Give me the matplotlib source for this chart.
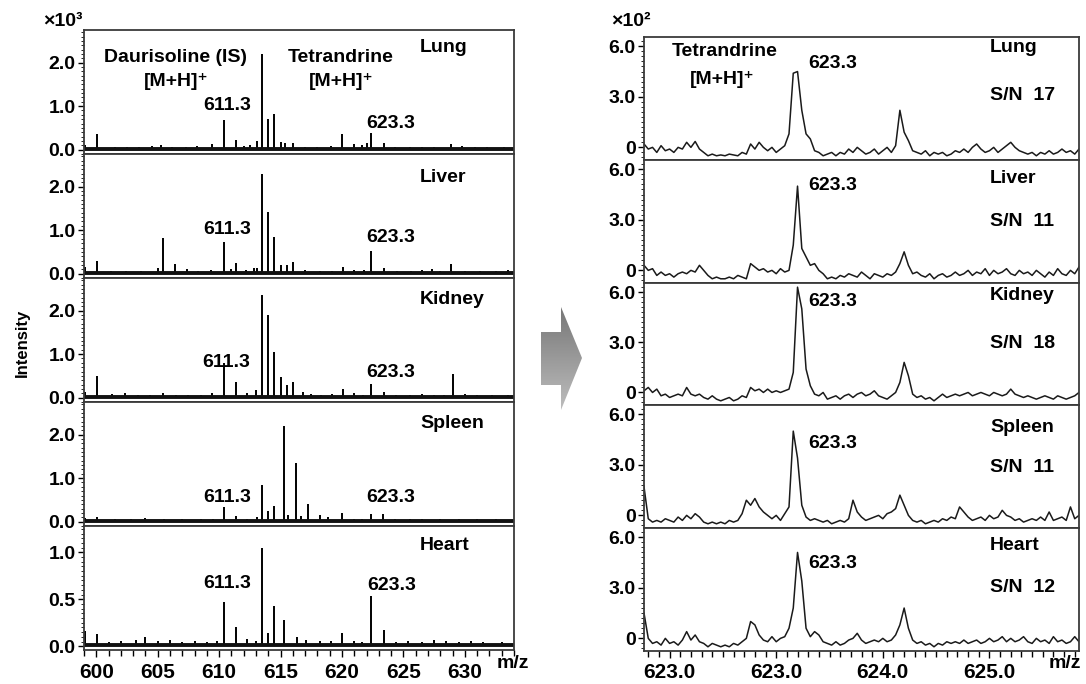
import numpy as np
import matplotlib.pyplot as plt
from matplotlib.ticker import MultipleLocator, AutoMinorLocator
from matplotlib.patches import Polygon
from matplotlib.colors import LinearSegmentedColormap

plt.rcParams['font.family'] = ['Liberation Sans', 'DejaVu Sans']
plt.rcParams['font.weight'] = 'bold'

W, H = 1086, 684

tissues = ['Lung', 'Liver', 'Kidney', 'Spleen', 'Heart']
sn_ratio = [17, 11, 18, 11, 12]

# full scan, stick peaks: m/z and intensity (x10^3)
lung_mz = [599.1, 600.05, 601.5, 602.5, 603.5, 604.5, 605.3, 606.2, 607.3, 608.2,
           609.4, 610.4, 611.4, 612.0, 612.5, 613.1, 613.45, 614.0, 614.45, 615.0,
           615.4, 616.0, 617.0, 618.0, 619.1, 620.0, 621.0, 621.6, 622.0, 622.4,
           623.4, 624.3, 625.5, 626.5, 627.5, 628.9, 629.8, 630.8, 631.8, 633.2]
lung_int = [0.1, 0.37, 0.06, 0.07, 0.06, 0.08, 0.1, 0.06, 0.07, 0.08,
            0.12, 0.69, 0.22, 0.08, 0.1, 0.2, 2.2, 0.7, 0.82, 0.18,
            0.15, 0.15, 0.06, 0.07, 0.08, 0.35, 0.12, 0.1, 0.15, 0.38,
            0.16, 0.06, 0.06, 0.07, 0.06, 0.12, 0.08, 0.07, 0.06, 0.07]

liver_mz = [599.1, 600.05, 601.2, 602.4, 603.6, 605.0, 605.4, 606.4, 607.4, 608.3,
            609.3, 610.4, 611.0, 611.4, 612.2, 612.8, 613.1, 613.45, 614.0, 614.45,
            615.0, 615.5, 616.0, 617.0, 618.2, 619.2, 620.05, 621.0, 621.8, 622.4,
            623.4, 624.5, 625.6, 626.5, 627.3, 628.0, 628.9, 630.0, 631.2, 632.5, 633.5]
liver_int = [0.15, 0.29, 0.06, 0.07, 0.06, 0.12, 0.82, 0.22, 0.1, 0.07,
             0.09, 0.72, 0.1, 0.24, 0.08, 0.12, 0.14, 2.29, 1.41, 0.84,
             0.2, 0.19, 0.27, 0.08, 0.07, 0.06, 0.16, 0.08, 0.09, 0.52,
             0.14, 0.07, 0.06, 0.08, 0.1, 0.06, 0.22, 0.07, 0.06, 0.06, 0.08]

kidney_mz = [599.1, 600.05, 601.3, 602.3, 603.4, 604.4, 605.4, 606.5, 607.5, 608.5,
             609.4, 610.4, 611.4, 612.3, 613.0, 613.45, 614.0, 614.45, 615.0, 615.5,
             616.0, 616.8, 617.5, 618.3, 619.2, 620.05, 621.0, 621.7, 622.4, 623.4,
             624.4, 625.5, 626.5, 627.5, 628.3, 629.0, 630.0, 631.0, 632.2, 633.5]
kidney_int = [0.12, 0.5, 0.08, 0.1, 0.06, 0.07, 0.1, 0.06, 0.07, 0.06,
              0.1, 0.8, 0.35, 0.1, 0.18, 2.35, 1.9, 1.05, 0.48, 0.3,
              0.35, 0.12, 0.08, 0.06, 0.08, 0.2, 0.1, 0.07, 0.32, 0.12,
              0.06, 0.07, 0.08, 0.06, 0.07, 0.55, 0.08, 0.06, 0.07, 0.06]

spleen_mz = [599.1, 600.05, 601.5, 602.8, 604.0, 605.5, 607.0, 608.5, 609.5, 610.4,
             611.4, 612.3, 613.1, 613.45, 614.0, 614.45, 615.3, 615.6, 616.25, 616.7,
             617.2, 618.2, 618.9, 620.0, 621.0, 621.6, 622.35, 623.35, 624.3, 625.5,
             626.5, 628.0, 629.5, 631.0, 632.5]
spleen_int = [0.08, 0.1, 0.06, 0.05, 0.08, 0.05, 0.06, 0.07, 0.07, 0.33,
              0.12, 0.06, 0.1, 0.84, 0.25, 0.36, 2.2, 0.15, 1.35, 0.12,
              0.4, 0.15, 0.1, 0.2, 0.07, 0.06, 0.17, 0.17, 0.06, 0.05,
              0.06, 0.05, 0.06, 0.05, 0.06]

heart_mz = [599.05, 600.05, 601.0, 602.0, 603.2, 604.0, 605.0, 606.0, 607.0, 608.0,
            609.0, 609.8, 610.4, 611.4, 612.3, 613.0, 613.45, 614.0, 614.45, 615.3,
            616.3, 617.1, 618.2, 619.1, 620.0, 621.0, 621.6, 622.35, 623.4, 624.4,
            625.4, 626.5, 627.5, 628.5, 629.5, 630.5, 631.5, 633.0]
heart_int = [0.16, 0.13, 0.05, 0.06, 0.07, 0.1, 0.06, 0.07, 0.05, 0.06,
             0.05, 0.06, 0.47, 0.2, 0.08, 0.06, 1.05, 0.14, 0.43, 0.28,
             0.1, 0.07, 0.06, 0.06, 0.14, 0.06, 0.05, 0.54, 0.17, 0.05,
             0.06, 0.05, 0.07, 0.06, 0.05, 0.06, 0.05, 0.05]

# zoomed profiles around 623.3 (x10^2), one value every 0.04 m/z from 621.76
zoom_start, zoom_step = 621.76, 0.04
lung_zoom = [0.2, -0.1, 0.0, -0.3, 0.1, -0.2, -0.1, -0.3, 0.0, -0.1,
             0.3, 0.0, 0.35, -0.1,
             -0.3, -0.5, -0.4, -0.5, -0.45, -0.5, -0.4, -0.45, -0.5, -0.3, -0.4,
             0.2, -0.1, 0.3, 0.0,
             -0.2, 0.0, -0.3, -0.1, 0.1,
             0.8, 4.4, 4.5, 2.2, 0.8, 0.5, -0.2,
             -0.3, -0.5, -0.4, -0.3, -0.5, -0.3, -0.4, -0.1, -0.3, 0.0,
             -0.2, -0.4, -0.3, -0.1, -0.4, -0.2, 0.0, -0.3,
             0.1, 2.2, 0.9, 0.4, -0.2,
             -0.3, -0.4, -0.2, -0.5, -0.3, -0.4, -0.3, -0.5, -0.4, -0.2,
             -0.3, -0.1, -0.3, 0.0, 0.2, -0.1, -0.3, -0.2, 0.0, -0.3,
             -0.1, 0.1, 0.3, 0.0, -0.2, -0.3, -0.4, -0.3, -0.5, -0.3,
             -0.4, -0.2, -0.4, -0.3, -0.1, -0.3, -0.2, -0.4, -0.1]
liver_zoom = [0.3, 0.0, 0.1, -0.3, -0.1, -0.3, -0.2, -0.4, -0.2, -0.1,
              -0.2, 0.0, -0.1, 0.3,
              0.0, -0.3, -0.5, -0.4, -0.5, -0.5, -0.4, -0.5, -0.3, -0.4, -0.5,
              0.4, 0.2, 0.0, 0.1,
              -0.1, 0.0, -0.2, 0.1, -0.1,
              0.0, 1.5, 5.0, 1.3, 0.8, 0.3, 0.4,
              0.0, -0.2, -0.5, -0.4, -0.5, -0.3, -0.4, -0.2, -0.3, -0.4,
              -0.1, -0.3, -0.5, -0.2, -0.3, -0.4, -0.2, -0.3,
              -0.1, 0.4, 1.1, 0.3, -0.2,
              -0.1, -0.3, -0.4, -0.2, -0.5, -0.3, -0.2, -0.4, -0.3, -0.1,
              -0.3, -0.2, 0.0, -0.3, -0.1, -0.2, 0.1, -0.3, 0.0, -0.2,
              -0.1, 0.1, -0.2, -0.3, 0.0, -0.2, -0.1, -0.3, 0.0, -0.2,
              -0.4, -0.1, -0.3, 0.1, -0.2, -0.3, 0.0, -0.2, 0.2]
kidney_zoom = [0.1, 0.3, 0.0, 0.2, -0.2, -0.1, -0.3, -0.2, -0.1, -0.2,
               0.3, -0.1, -0.2, -0.1,
               -0.3, -0.4, -0.2, -0.4, -0.5, -0.4, -0.3, -0.5, -0.4, -0.2, -0.3,
               0.3, 0.1, 0.2, 0.0,
               0.2, 0.0, 0.1, 0.0, 0.1,
               0.2, 1.2, 6.3, 5.0, 1.4, 0.4, -0.1,
               -0.2, 0.0, -0.4, -0.3, -0.2, -0.4, -0.2, -0.1, -0.3, -0.1,
               0.0, -0.2, -0.1, 0.1, -0.2, -0.3, -0.4, -0.2,
               0.0, 0.6, 1.8, 1.0, -0.1,
               -0.3, -0.2, -0.4, -0.3, -0.5, -0.3, -0.1, -0.3, -0.2, -0.1,
               -0.2, -0.1, 0.0, -0.2, -0.1, 0.0, -0.1, -0.2, 0.0, -0.1,
               -0.2, -0.1, 0.2, -0.1, -0.2, -0.3, -0.2, -0.3, -0.4, -0.3,
               -0.2, -0.3, -0.4, -0.2, -0.3, -0.4, -0.3, -0.2, 0.0]
spleen_zoom = [1.7, -0.2, -0.4, -0.3, -0.4, -0.2, -0.3, -0.4, -0.1, -0.3,
               0.0, -0.2, 0.1, -0.1,
               -0.4, -0.5, -0.4, -0.5, -0.4, -0.5, -0.3, -0.4, -0.3, 0.1, 0.9,
               0.6, 1.0, 0.5, 0.2,
               0.0, -0.2, 0.0, -0.3, 0.1,
               0.5, 5.0, 3.4, 0.6, -0.1, -0.3, -0.2,
               -0.3, -0.4, -0.3, -0.5, -0.4, -0.3, -0.4, -0.2, 0.9, 0.2,
               -0.1, -0.3, -0.2, -0.1, 0.0, -0.2, 0.1, 0.2,
               0.4, 1.2, 0.6, 0.0, -0.3,
               -0.4, -0.3, -0.5, -0.4, -0.3, -0.4, -0.2, -0.3, -0.1, -0.2,
               0.5, 0.2, -0.1, -0.3, -0.2, -0.1, -0.3, 0.0, -0.2, -0.1,
               0.3, 0.0, -0.1, -0.3, -0.2, -0.4, -0.3, -0.2, -0.3, -0.1,
               -0.3, 0.2, -0.3, -0.2, -0.1, -0.3, 0.5, -0.2, 0.0]
heart_zoom = [1.5, 0.0, -0.3, -0.2, -0.4, 0.0, -0.3, -0.2, -0.4, -0.1,
              0.4, -0.1, 0.2, -0.2,
              -0.3, -0.5, -0.3, -0.4, -0.5, -0.4, -0.5, -0.3, -0.4, -0.2, 0.0,
              1.0, 0.8, 0.2, -0.1,
              -0.2, 0.1, -0.2, 0.0, 0.1,
              0.6, 1.8, 5.1, 3.4, 0.6, 0.1, 0.4,
              0.2, -0.2, -0.3, -0.4, -0.2, -0.4, -0.3, -0.1, 0.0, 0.3,
              -0.1, -0.3, -0.2, -0.1, -0.2, 0.0, -0.2, -0.1,
              0.2, 0.8, 1.8, 0.6, -0.1,
              -0.3, -0.2, -0.4, -0.3, -0.5, -0.3, -0.4, -0.2, -0.3, -0.2,
              -0.3, -0.1, -0.3, -0.2, -0.1, -0.3, -0.2, 0.0, -0.2, -0.1,
              0.1, -0.2, 0.0, -0.2, -0.1, 0.1, -0.2, -0.3, 0.0, -0.2,
              -0.1, -0.3, 0.1, -0.2, -0.1, -0.3, -0.2, 0.1, -0.2]

full_mz = [lung_mz, liver_mz, kidney_mz, spleen_mz, heart_mz]
full_int = [lung_int, liver_int, kidney_int, spleen_int, heart_int]
zoom_int = [lung_zoom, liver_zoom, kidney_zoom, spleen_zoom, heart_zoom]

left_yticks = [[0, 1, 2]] * 4 + [[0, 0.5, 1.0]]
left_ylabels = [['0.0', '1.0', '2.0']] * 4 + [['0.0', '0.5', '1.0']]
left_ylim = [(-0.1, 2.75)] * 4 + [(-0.04, 1.28)]
right_xticks = [622, 623, 624, 625]
right_xlabels = ['623.0', '623.0', '624.0', '625.0']

fig = plt.figure(figsize=(W / 100, H / 100), dpi=100)


def box(x0, y0, x1, y1):
    return [x0 / W, 1 - y1 / H, (x1 - x0) / W, (y1 - y0) / H]


def label(x, y, s, size=14, ha='center', **kw):
    fig.text(x / W, 1 - y / H, s, ha=ha, va='center', fontsize=size,
             fontweight='bold', **kw)


# grey block arrow between the two stacks
bg = fig.add_axes([0, 0, 1, 1], zorder=-1)
bg.set_xlim(0, W)
bg.set_ylim(H, 0)
bg.axis('off')
arrow = Polygon([(541, 332), (561, 332), (561, 307), (582, 358), (561, 410),
                 (561, 385), (541, 385)], closed=True, fc='none', ec='none')
bg.add_patch(arrow)
cmap = LinearSegmentedColormap.from_list('g', ['#777777', '#bdbdbd'])
im = bg.imshow(np.linspace(0, 1, 100).reshape(-1, 1), cmap=cmap, origin='upper',
               extent=(541, 582, 410, 307), aspect='auto')
im.set_clip_path(arrow)

spine_col = '#3a3a3a'
left_edges = [30, 154, 278, 402, 526, 650]
right_edges = [37, 160, 283, 405, 528, 651]

for k in range(5):
    # full scan
    ax = fig.add_axes(box(84, left_edges[k], 514, left_edges[k + 1]))
    ax.vlines(full_mz[k], 0, full_int[k], color='black', lw=1.4)
    ax.axhline(0.012 if k == 4 else 0.025, color='#111111', lw=2.8)
    ax.set_xlim(599, 634)
    ax.set_ylim(*left_ylim[k])
    ax.set_yticks(left_yticks[k])
    ax.set_yticklabels(left_ylabels[k])
    ax.yaxis.set_minor_locator(AutoMinorLocator(10))
    ax.xaxis.set_major_locator(MultipleLocator(5))
    ax.xaxis.set_minor_locator(MultipleLocator(1))
    ax.tick_params(axis='y', which='major', length=4, width=1, labelsize=14, pad=2)
    ax.tick_params(axis='y', which='minor', length=2, width=0.6)
    if k < 4:
        ax.tick_params(axis='x', which='both', bottom=False, labelbottom=False)
    else:
        ax.tick_params(axis='x', which='major', length=5, width=1, labelsize=15, pad=4)
        ax.tick_params(axis='x', which='minor', length=4, width=1)
    for sp in ax.spines.values():
        sp.set_color(spine_col)
        sp.set_linewidth(1.3)

    # zoom on tetrandrine
    axr = fig.add_axes(box(644, right_edges[k], 1079, right_edges[k + 1]))
    x = zoom_start + zoom_step * np.arange(len(zoom_int[k]))
    axr.plot(x, zoom_int[k], color='#1a1a1a', lw=1.1)
    axr.set_xlim(621.76, 625.84)
    axr.set_ylim(-0.75, 6.55)
    axr.set_yticks([0, 3, 6])
    axr.set_yticklabels(['0', '3.0', '6.0'])
    axr.yaxis.set_minor_locator(AutoMinorLocator(10))
    axr.tick_params(axis='y', which='major', length=4, width=1, labelsize=14, pad=2)
    axr.tick_params(axis='y', which='minor', length=2, width=0.6)
    if k < 4:
        axr.tick_params(axis='x', which='both', bottom=False, labelbottom=False)
    else:
        axr.set_xticks(right_xticks)
        axr.set_xticklabels(right_xlabels)
        axr.xaxis.set_minor_locator(MultipleLocator(0.1))
        axr.tick_params(axis='x', which='major', length=5, width=1, labelsize=15, pad=4)
        axr.tick_params(axis='x', which='minor', length=4, width=1)
    for sp in axr.spines.values():
        sp.set_color(spine_col)
        sp.set_linewidth(1.3)

# left stack annotations
label(175, 57, 'Daurisoline (IS)')
label(176, 82, '[M+H]⁺')
label(341, 57, 'Tetrandrine')
label(341, 82, '[M+H]⁺')
left_tissue_y = [47, 177, 300, 424, 545]
l611 = [(227, 105), (227, 229), (226, 362), (227, 497), (227, 584)]
l623 = [(391, 123), (391, 237), (391, 373), (391, 497), (392, 586)]
for k in range(5):
    label(420, left_tissue_y[k], tissues[k], ha='left')
    label(*l611[k], '611.3')
    label(*l623[k], '623.3')

# right stack annotations
label(725, 52, 'Tetrandrine')
label(722, 80, '[M+H]⁺')
right_tissue_y = [47, 178, 296, 427, 545]
right_sn_y = [96, 222, 343, 467, 588]
right_623_y = [63, 186, 301, 443, 563]
for k in range(5):
    label(990, right_tissue_y[k], tissues[k], ha='left')
    label(990, right_sn_y[k], f'S/N  {sn_ratio[k]}', ha='left')
    label(808, right_623_y[k], '623.3', ha='left')

label(63, 22, '×10³', size=14)
label(631, 22, '×10²', size=14)
label(22, 343, 'Intensity', size=12, rotation=90)
label(513, 663, 'm/z', size=14)
label(1065, 663, 'm/z', size=14)

fig.savefig('out.png', dpi=100)
